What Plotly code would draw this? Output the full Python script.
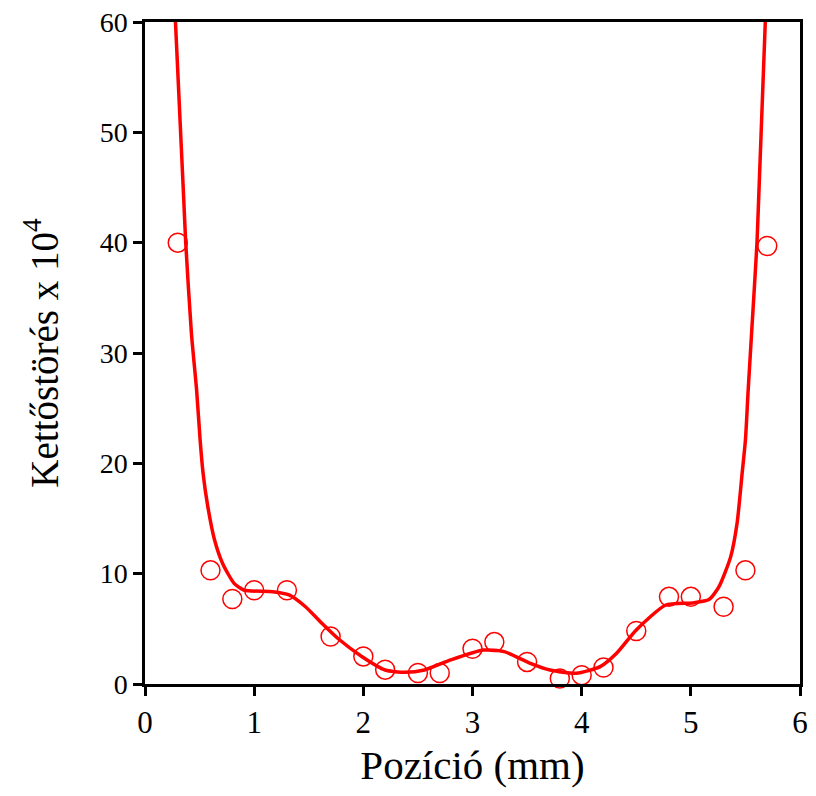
import plotly.graph_objects as go

# measured points
pos_x = [0.3, 0.6, 0.8, 1.0, 1.3, 1.7, 2.0, 2.2, 2.5, 2.7, 3.0, 3.2, 3.5, 3.8, 4.0, 4.2, 4.5, 4.8, 5.0, 5.3, 5.5, 5.7]
biref_y = [40.0, 10.3, 7.7, 8.5, 8.5, 4.3, 2.5, 1.3, 1.0, 1.0, 3.2, 3.8, 2.0, 0.5, 0.8, 1.5, 4.8, 7.9, 7.9, 7.0, 10.3, 39.7]

# fitted curve
fit_x = [0.279, 0.355, 0.373, 0.425, 0.473, 0.505, 0.532, 0.575, 0.636, 0.712, 0.818, 0.909,
         1.17, 1.32, 1.47, 1.62, 1.77, 1.985, 2.2, 2.38, 2.56, 2.8, 3.1, 3.29, 3.53, 3.71, 3.95,
         4.17, 4.32, 4.5, 4.77, 5.015, 5.166, 5.257, 5.364, 5.424, 5.47, 5.5, 5.525, 5.575, 5.606,
         5.621, 5.682]
fit_y = [60, 43.9, 40.0, 31.8, 26.6, 22.1, 19.1, 16.1, 13.1, 10.9, 9.1, 8.5,
         8.37, 8.07, 7.0, 5.5, 4.1, 2.5, 1.27, 1.06, 1.27, 2.18, 3.08, 2.93, 1.88, 1.27, 0.97,
         1.57, 2.78, 4.9, 7.16, 7.35, 7.65, 8.8, 11.5, 14.6, 19.1, 22.1, 26.6, 34.8, 40.0,
         43.9, 60]

x_ticks = [0, 1, 2, 3, 4, 5, 6]
y_ticks = [0, 10, 20, 30, 40, 50, 60]

RED = "#ff0000"
FONT = "Liberation Serif"

fig = go.Figure()
fig.add_trace(go.Scatter(x=fit_x, y=fit_y, mode="lines",
                         line=dict(color=RED, width=3.5, shape="spline", smoothing=0.6),
                         showlegend=False))
fig.add_trace(go.Scatter(x=pos_x, y=biref_y, mode="markers",
                         marker=dict(symbol="circle-open", size=19, color=RED, line=dict(width=1.5, color=RED)),
                         showlegend=False, cliponaxis=False))

# the page body adds an 8px offset; figure sized so plot box lands near x 145-800, y 22-684
fig.update_layout(
    width=800, height=780,
    margin=dict(l=137, r=8, t=14, b=104),
    paper_bgcolor="white", plot_bgcolor="white",
    font=dict(family=FONT, color="black"),
    xaxis=dict(range=[0, 6], tickvals=x_ticks, ticktext=[str(v) for v in x_ticks],
               showgrid=False, zeroline=False, showline=True, linecolor="black", linewidth=2.5,
               mirror=True, ticks="outside", ticklen=9, tickwidth=2.5, tickcolor="black",
               automargin=False, ticklabeloverflow="allow",
               tickfont=dict(size=31, family=FONT),
               title=dict(text="Pozíció (mm)", font=dict(size=41, family=FONT), standoff=20)),
    yaxis=dict(range=[0, 60], tickvals=y_ticks, ticktext=[str(v) for v in y_ticks],
               showgrid=False, zeroline=False, showline=True, linecolor="black", linewidth=2.5,
               mirror=True, ticks="outside", ticklen=9, tickwidth=2.5, tickcolor="black",
               automargin=False, ticklabeloverflow="allow",
               tickfont=dict(size=28, family=FONT),
               title=dict(text="Kettőstörés x 10<sup>4</sup>", font=dict(size=39, family=FONT), standoff=30)),
)

fig.write_html("out.html")
